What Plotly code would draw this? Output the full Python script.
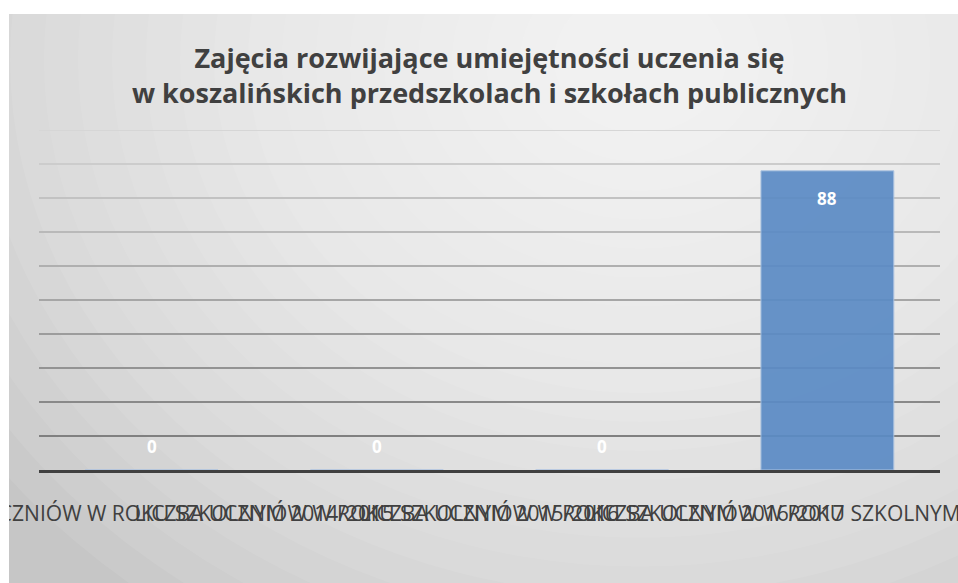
import plotly.graph_objects as go

W, H = 958, 583
MARGIN = dict(l=39, r=18, t=130, b=113)

TITLE = "<b>Zajęcia rozwijające umiejętności uczenia się<br>w koszalińskich przedszkolach i szkołach publicznych</b>"
CATEGORIES = [
    "LICZBA UCZNIÓW W ROKU SZKOLNYM 2014/2015",
    "LICZBA UCZNIÓW W ROKU SZKOLNYM 2015/2016",
    "LICZBA UCZNIÓW W ROKU SZKOLNYM 2016/2017",
    "LICZBA UCZNIÓW W ROKU SZKOLNYM 2017/2018",
]
VALUES = [0, 0, 0, 88]
GRID_TICKS = [10, 20, 30, 40, 50, 60, 70, 80, 90, 100]
Y_RANGE = [0, 100]

BAR_COLOR = "#5B8BC5"
TEXT_COLOR = "#404040"
FONT = "'Open Sans', Lato, sans-serif"

plot_w = W - MARGIN["l"] - MARGIN["r"]
plot_h = H - MARGIN["t"] - MARGIN["b"]


def px_x(px):
    return (px - MARGIN["l"]) / plot_w


def px_y(py):
    return (H - MARGIN["b"] - py) / plot_h


shapes = []
# chart area background: grey base with a soft radial highlight near the title
shapes.append(dict(type="rect", xref="paper", yref="paper", layer="below",
                   x0=px_x(0), x1=px_x(W), y0=px_y(H), y1=px_y(0),
                   fillcolor="#c6c6c6", line_width=0))
cx, cy = 640, 60
n = 22
for i in range(n):
    r = 800 - i * 34
    shapes.append(dict(type="circle", xref="paper", yref="paper", layer="below",
                       x0=px_x(cx - r), x1=px_x(cx + r),
                       y0=px_y(cy + r * 0.85), y1=px_y(cy - r * 0.85),
                       fillcolor="white", opacity=0.08, line_width=0))
# white outer margin (top and left)
shapes.append(dict(type="rect", xref="paper", yref="paper", layer="below",
                   x0=px_x(0), x1=px_x(W), y0=px_y(14), y1=px_y(0),
                   fillcolor="white", line_width=0))
shapes.append(dict(type="rect", xref="paper", yref="paper", layer="above",
                   x0=px_x(0), x1=px_x(9), y0=px_y(H), y1=px_y(0),
                   fillcolor="white", line_width=0))

# gridlines, darker towards the baseline
for t in GRID_TICKS:
    f = (t - GRID_TICKS[0]) / (GRID_TICKS[-1] - GRID_TICKS[0])
    g = int(0x80 + f * (0xd6 - 0x80))
    shapes.append(dict(type="line", xref="paper", yref="y", layer="below",
                       x0=0, x1=1, y0=t, y1=t,
                       line=dict(color=f"rgb({g},{g},{g})", width=2)))

fig = go.Figure(go.Bar(
    x=CATEGORIES, y=VALUES,
    marker=dict(color=BAR_COLOR, line=dict(color="#A9C1E0", width=1)),
    opacity=0.92,
    hoverinfo="skip",
))

annotations = []
for c, v in zip(CATEGORIES, VALUES):
    annotations.append(dict(
        x=c, y=v, xref="x", yref="y", text=f"<b>{v}</b>", showarrow=False,
        yanchor="top" if v > 0 else "bottom", yshift=-14 if v > 0 else 10,
        font=dict(family=FONT, size=17, color="white"),
    ))

fig.update_layout(
    width=W, height=H,
    margin=MARGIN,
    paper_bgcolor="white",
    plot_bgcolor="rgba(0,0,0,0)",
    font=dict(family=FONT, color=TEXT_COLOR),
    title=dict(text=TITLE, x=0.5, xref="paper", xanchor="center",
               y=1 - 68 / H, yanchor="top", yref="container",
               font=dict(family=FONT, size=27, color=TEXT_COLOR)),
    bargap=0.41,
    showlegend=False,
    shapes=shapes,
    annotations=annotations,
    xaxis=dict(showline=True, linecolor="#404040", linewidth=3,
               showgrid=False, zeroline=False, tickangle=0, automargin=False,
               ticks="", ticklabelstandoff=23,
               tickfont=dict(family=FONT, size=21, color=TEXT_COLOR)),
    yaxis=dict(range=Y_RANGE, showgrid=False, zeroline=False,
               showticklabels=False, automargin=False),
)

fig.write_html("out.html", config={"displayModeBar": False},
               post_script="document.body.style.margin='0';")
